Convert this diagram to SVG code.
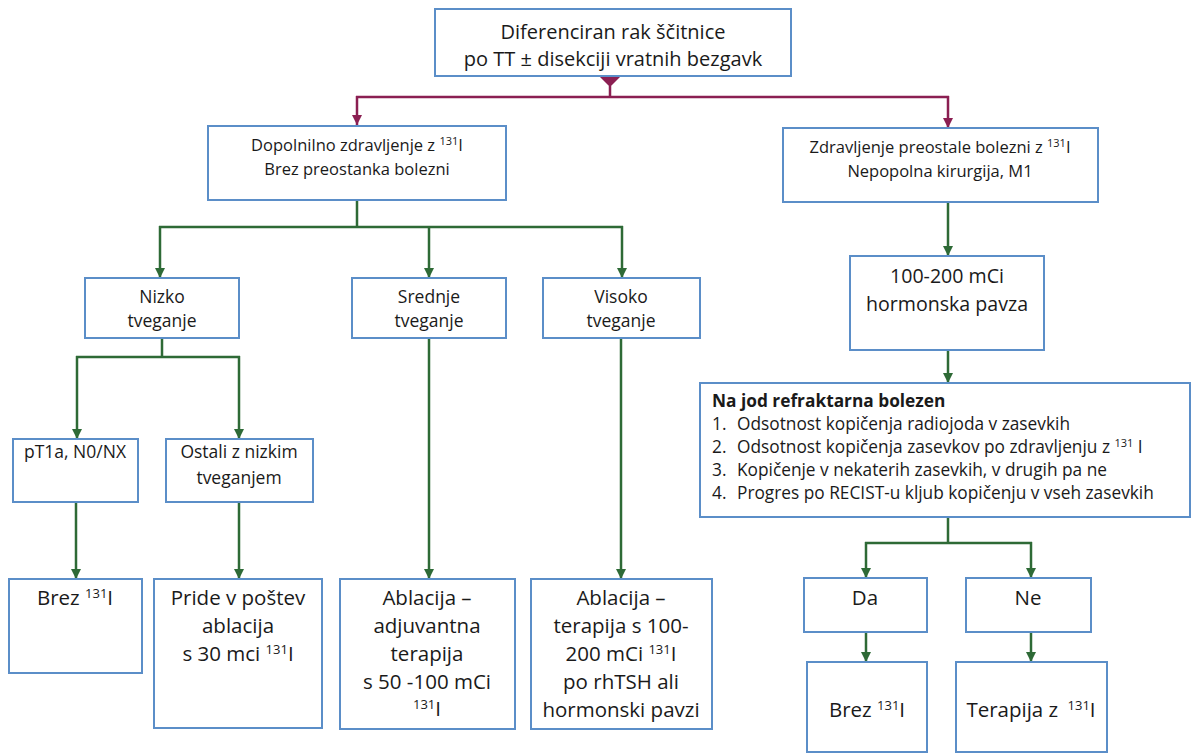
<svg xmlns="http://www.w3.org/2000/svg" width="1194" height="756" viewBox="0 0 1194 756">
<style>
.box{fill:#fff;stroke:#5b8ec8;stroke-width:2}
text{font-family:"Open Sans","Liberation Sans",sans-serif;fill:#1a1a1a}
.c{text-anchor:middle}
.t20{font-size:20px}
.t16{font-size:16.5px}
.t17{font-size:17.5px}
.t19{font-size:19.6px}
.tb{font-size:20.5px}
.t15{font-size:17.3px}
.g{fill:none;stroke:#2e6a36;stroke-width:2.5}
.m{fill:none;stroke:#8b1f52;stroke-width:2.5}
</style>
<defs>
<marker id="ag" markerUnits="userSpaceOnUse" markerWidth="12" markerHeight="10" refX="10" refY="5" orient="auto" viewBox="0 0 12 10">
<path d="M0,0 L10,5 L0,10 z" fill="#2e6a36"/>
</marker>
<marker id="am" markerUnits="userSpaceOnUse" markerWidth="12" markerHeight="10" refX="10" refY="5" orient="auto" viewBox="0 0 12 10">
<path d="M0,0 L10,5 L0,10 z" fill="#8b1f52"/>
</marker>
</defs>

<g id="connectors">
<polygon points="600,77 620,77 610,87" fill="#8b1f52"/>
<path class="m" d="M610,86 V97 M356,97 H949"/>
<path class="m" d="M357,96 V125" marker-end="url(#am)"/>
<path class="m" d="M948,96 V128" marker-end="url(#am)"/>
<path class="g" d="M357,200 V227 M159,227 H623"/>
<path class="g" d="M160,226 V278" marker-end="url(#ag)"/>
<path class="g" d="M429,226 V278" marker-end="url(#ag)"/>
<path class="g" d="M622,226 V278" marker-end="url(#ag)"/>
<path class="g" d="M162,338 V357 M76,357 H240"/>
<path class="g" d="M77,356 V439" marker-end="url(#ag)"/>
<path class="g" d="M239,356 V439" marker-end="url(#ag)"/>
<path class="g" d="M76,502 V579" marker-end="url(#ag)"/>
<path class="g" d="M239,502 V579" marker-end="url(#ag)"/>
<path class="g" d="M429,338 V579" marker-end="url(#ag)"/>
<path class="g" d="M621,338 V579" marker-end="url(#ag)"/>
<path class="g" d="M948,202 V256" marker-end="url(#ag)"/>
<path class="g" d="M948,350 V383" marker-end="url(#ag)"/>
<path class="g" d="M948,517 V543 M865,543 H1032"/>
<path class="g" d="M866,542 V578" marker-end="url(#ag)"/>
<path class="g" d="M1031,542 V578" marker-end="url(#ag)"/>
<path class="g" d="M866,632 V662" marker-end="url(#ag)"/>
<path class="g" d="M1031,632 V662" marker-end="url(#ag)"/>
</g>

<g id="n-top">
<rect class="box" x="435" y="9" width="356" height="67"/>
<text class="c t20" x="613" y="39">Diferenciran rak ščitnice</text>
<text class="c t20" x="613" y="66">po TT ± disekciji vratnih bezgavk</text>
</g>

<g id="n-dopolnilno">
<rect class="box" x="208" y="126" width="298" height="74"/>
<text class="c t16" x="357" y="151">Dopolnilno zdravljenje z <tspan font-size="11" dy="-6">131</tspan><tspan dy="6">I</tspan></text>
<text class="c t16" x="357" y="175">Brez preostanka bolezni</text>
</g>

<g id="n-zdravljenje">
<rect class="box" x="783" y="128" width="315" height="74"/>
<text class="c t16" x="940" y="153">Zdravljenje preostale bolezni z <tspan font-size="11" dy="-6">131</tspan><tspan dy="6">I</tspan></text>
<text class="c t16" x="940" y="177">Nepopolna kirurgija, M1</text>
</g>

<g id="n-nizko">
<rect class="box" x="85" y="278" width="154" height="60"/>
<text class="c t17" x="162" y="303">Nizko</text>
<text class="c t17" x="162" y="327">tveganje</text>
</g>

<g id="n-srednje">
<rect class="box" x="352" y="278" width="154" height="60"/>
<text class="c t17" x="429" y="303">Srednje</text>
<text class="c t17" x="429" y="327">tveganje</text>
</g>

<g id="n-visoko">
<rect class="box" x="543" y="278" width="157" height="60"/>
<text class="c t17" x="621" y="303">Visoko</text>
<text class="c t17" x="621" y="327">tveganje</text>
</g>

<g id="n-pt1a">
<rect class="box" x="13" y="439" width="125" height="63"/>
<text class="c t17" x="75" y="458">pT1a, N0/NX</text>
</g>

<g id="n-ostali">
<rect class="box" x="166" y="439" width="147" height="63"/>
<text class="c t17" x="239" y="458">Ostali z nizkim</text>
<text class="c t17" x="239" y="484">tveganjem</text>
</g>

<g id="n-100-200">
<rect class="box" x="850" y="256" width="194" height="94"/>
<text class="c t19" x="947" y="283">100-200 mCi</text>
<text class="c t19" x="947" y="311">hormonska pavza</text>
</g>

<g id="n-refraktarna">
<rect class="box" x="700" y="383" width="490" height="134"/>
<text class="t15" x="712" y="407" font-weight="bold">Na jod refraktarna bolezen</text>
<text class="t15" x="712" y="430">1.</text>
<text class="t15" x="737" y="430">Odsotnost kopičenja radiojoda v zasevkih</text>
<text class="t15" x="712" y="453">2.</text>
<text class="t15" x="737" y="453">Odsotnost kopičenja zasevkov po zdravljenju z <tspan font-size="11" dy="-6">131</tspan><tspan dy="6"> I</tspan></text>
<text class="t15" x="712" y="476">3.</text>
<text class="t15" x="737" y="476">Kopičenje v nekaterih zasevkih, v drugih pa ne</text>
<text class="t15" x="712" y="499">4.</text>
<text class="t15" x="737" y="499">Progres po RECIST-u kljub kopičenju v vseh zasevkih</text>
</g>

<g id="n-brez1">
<rect class="box" x="9" y="579" width="133" height="94"/>
<text class="c tb" x="75" y="605">Brez <tspan font-size="13" dy="-7">131</tspan><tspan dy="7">I</tspan></text>
</g>

<g id="n-pride">
<rect class="box" x="154" y="579" width="168" height="149"/>
<text class="c tb" x="238" y="605">Pride v poštev</text>
<text class="c tb" x="238" y="633">ablacija</text>
<text class="c tb" x="238" y="661">s 30 mci <tspan font-size="13" dy="-7">131</tspan><tspan dy="7">I</tspan></text>
</g>

<g id="n-ablacija1">
<rect class="box" x="340" y="579" width="175" height="150"/>
<text class="c tb" x="427" y="605">Ablacija –</text>
<text class="c tb" x="427" y="633">adjuvantna</text>
<text class="c tb" x="427" y="661">terapija</text>
<text class="c tb" x="427" y="689">s 50 -100 mCi</text>
<text class="c tb" x="427" y="716"><tspan font-size="13" dy="-7">131</tspan><tspan dy="7">I</tspan></text>
</g>

<g id="n-ablacija2">
<rect class="box" x="531" y="579" width="181" height="150"/>
<text class="c tb" x="621" y="605">Ablacija –</text>
<text class="c tb" x="621" y="633">terapija s 100-</text>
<text class="c tb" x="621" y="661">200 mCi <tspan font-size="13" dy="-7">131</tspan><tspan dy="7">I</tspan></text>
<text class="c tb" x="621" y="689">po rhTSH ali</text>
<text class="c tb" x="621" y="717">hormonski pavzi</text>
</g>

<g id="n-da">
<rect class="box" x="804" y="578" width="123" height="54"/>
<text class="c tb" x="865" y="605">Da</text>
</g>

<g id="n-ne">
<rect class="box" x="966" y="578" width="125" height="54"/>
<text class="c tb" x="1028" y="605">Ne</text>
</g>

<g id="n-brez2">
<rect class="box" x="807" y="662" width="120" height="90"/>
<text class="c tb" x="867" y="717">Brez <tspan font-size="13" dy="-7">131</tspan><tspan dy="7">I</tspan></text>
</g>

<g id="n-terapija">
<rect class="box" x="956" y="662" width="151" height="90"/>
<text class="c tb" x="1031" y="717">Terapija z <tspan font-size="13" dy="-7" dx="4">131</tspan><tspan dy="7">I</tspan></text>
</g>
</svg>
